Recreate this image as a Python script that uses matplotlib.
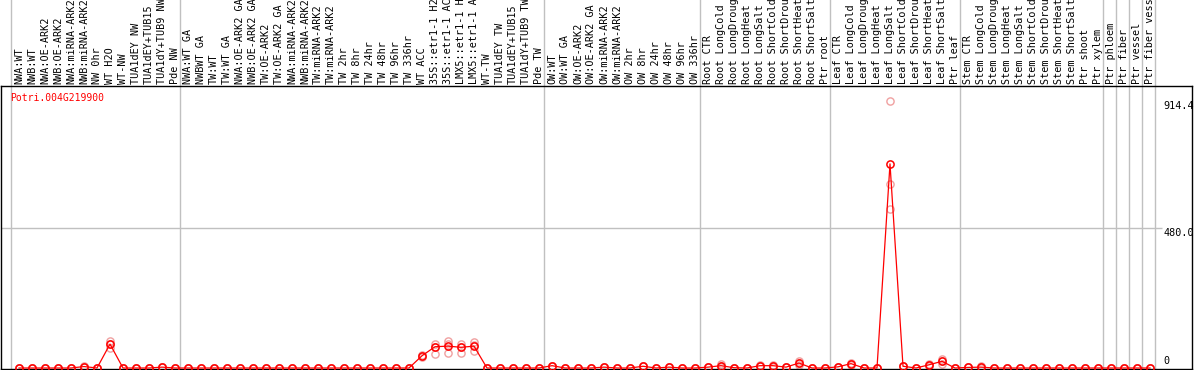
import matplotlib
matplotlib.use("Agg")
import matplotlib.pyplot as plt

# --- dados ---
gene_id = "Potri.004G219900"

labels = [
    # grupo 1
    "NWA:WT", "NWB:WT", "NWA:OE-ARK2", "NWB:OE-ARK2", "NWA:miRNA-ARK2", "NWB:miRNA-ARK2",
    "NW 0hr", "WT H2O", "WT-NW", "TUA1dEY NW", "TUA1dEY+TUB15", "TUA1dY+TUB9 NW", "Pde NW",
    # grupo 2
    "NWA:WT GA", "NWBWT GA", "TW:WT", "TW:WT GA", "NWA:OE-ARK2 GA", "NWB:OE-ARK2 GA",
    "TW:OE-ARK2", "TW:OE-ARK2 GA", "NWA:miRNA-ARK2", "NWB:miRNA-ARK2", "TW:miRNA-ARK2",
    "TW:miRNA-ARK2", "TW 2hr", "TW 8hr", "TW 24hr", "TW 48hr", "TW 96hr", "TW 336hr",
    "WT ACC", "35S::etr1-1 H2", "35S::etr1-1 AC", "LMX5::etr1-1 H", "LMX5::etr1-1 A",
    "WT-TW", "TUA1dEY TW", "TUA1dEY+TUB15", "TUA1dY+TUB9 TW", "Pde TW",
    # grupo 3
    "OW:WT", "OW:WT GA", "OW:OE-ARK2", "OW:OE-ARK2 GA", "OW:miRNA-ARK2", "OW:miRNA-ARK2",
    "OW 2hr", "OW 8hr", "OW 24hr", "OW 48hr", "OW 96hr", "OW 336hr",
    # raiz
    "Root CTR", "Root LongCold", "Root LongDroug", "Root LongHeat", "Root LongSalt",
    "Root ShortCold", "Root ShortDrou", "Root ShortHeat", "Root ShortSalt", "Ptr root",
    # folha
    "Leaf CTR", "Leaf LongCold", "Leaf LongDroug", "Leaf LongHeat", "Leaf LongSalt",
    "Leaf ShortCold", "Leaf ShortDrou", "Leaf ShortHeat", "Leaf ShortSalt", "Ptr leaf",
    # caule
    "Stem CTR", "Stem LongCold", "Stem LongDroug", "Stem LongHeat", "Stem LongSalt",
    "Stem ShortCold", "Stem ShortDrou", "Stem ShortHeat", "Stem ShortSalt", "Ptr shoot",
    "Ptr xylem",
    # tecidos isolados
    "Ptr phloem", "Ptr fiber", "Ptr vessel", "Ptr fiber vess",
]

group_sizes = [13, 28, 12, 10, 10, 11, 1, 1, 1, 1]

# média (linha vermelha)
means = [
    0, 0, 0, 0, 0, 5, 0, 82, 0, 0, 0, 3, 0,
    0, 0, 0, 0, 0, 0, 0, 0, 0, 0, 0, 0, 0, 0, 0, 0, 0, 0,
    42, 73, 75, 71, 75, 0, 0, 0, 0, 0,
    8, 0, 0, 0, 3, 0, 0, 6, 0, 3, 0, 0,
    3, 8, 1, 0, 8, 8, 3, 17, 0, 0,
    4, 15, 0, 0, 700, 6, 0, 11, 23, 0,
    2, 3, 0, 0, 0, 0, 0, 0, 0, 0, 0,
    0, 0, 0, 0,
]

# réplicas (círculos claros)
rep_a = [
    0, 0, 0, 0, 0, 7, 0, 94, 0, 0, 0, 3, 0,
    0, 0, 0, 0, 0, 0, 0, 0, 0, 0, 0, 0, 0, 0, 0, 0, 0, 0,
    45, 82, 92, 82, 89, 0, 0, 0, 0, 0,
    8, 0, 0, 0, 3, 0, 0, 6, 0, 3, 0, 0,
    3, 14, 1, 0, 10, 12, 3, 23, 0, 0,
    4, 18, 0, 0, 914.4, 6, 0, 15, 31, 0,
    2, 6, 0, 0, 0, 0, 0, 0, 0, 0, 0,
    0, 0, 0, 0,
]
rep_b = [
    0, 0, 0, 0, 0, 5, 0, 82, 0, 0, 0, 3, 0,
    0, 0, 0, 0, 0, 0, 0, 0, 0, 0, 0, 0, 0, 0, 0, 0, 0, 0,
    42, 73, 82, 71, 80, 0, 0, 0, 0, 0,
    8, 0, 0, 0, 3, 0, 0, 6, 0, 3, 0, 0,
    3, 8, 1, 0, 8, 8, 3, 17, 0, 0,
    4, 15, 0, 0, 631, 6, 0, 11, 23, 0,
    2, 3, 0, 0, 0, 0, 0, 0, 0, 0, 0,
    0, 0, 0, 0,
]
rep_c = [
    0, 0, 0, 0, 0, 3, 0, 70, 0, 0, 0, 3, 0,
    0, 0, 0, 0, 0, 0, 0, 0, 0, 0, 0, 0, 0, 0, 0, 0, 0, 0,
    39, 48, 50, 50, 58, 0, 0, 0, 0, 0,
    8, 0, 0, 0, 3, 0, 0, 6, 0, 3, 0, 0,
    3, 2, 1, 0, 6, 4, 3, 11, 0, 0,
    4, 12, 0, 0, 545, 6, 0, 7, 15, 0,
    2, 0, 0, 0, 0, 0, 0, 0, 0, 0, 0,
    0, 0, 0, 0,
]

y_ticks = [914.4, 480.0, 0]

# --- figura ---
W, H = 1194, 370
fig = plt.figure(figsize=(W / 100, H / 100), dpi=100)
# caixa do gráfico: x 1..1192 px, y 86..369 px (a partir do topo)
ax = fig.add_axes([1 / W, 1 - 369 / H, 1191 / W, 283 / H])

x = list(range(len(means)))
ax.set_xlim(-18 / 13, 1173 / 13)
ax.set_ylim(-3.4, 967)
ax.set_xticks([])
ax.set_yticks([])
for s in ax.spines.values():
    s.set_color("black")
    s.set_linewidth(1.0)

mono = "DejaVu Sans Mono"

# linhas verticais dos grupos (atravessam a área dos rótulos)
limite = 0
fronteiras = [0]
for g in group_sizes:
    limite += g
    fronteiras.append(limite)
for b in fronteiras:
    ax.axvline(b - 0.6, ymin=0, ymax=369 / 283, color="#c0c0c0", lw=1.0,
               clip_on=False, zorder=0)

# grade horizontal em 480
ax.hlines(480.0, -2, 87.9, color="#c0c0c0", lw=1.0, zorder=0)

# rótulos das amostras no topo
for i, lab in enumerate(labels):
    ax.text(i, 1.007, lab, transform=ax.get_xaxis_transform(), rotation=90,
            ha="center", va="bottom", fontsize=7.3, family=mono, clip_on=False)

# réplicas
for rep in (rep_a, rep_b, rep_c):
    ax.plot(x, rep, linestyle="none", marker="o", ms=5.2, mfc="none",
            mec="#f0a0a0", mew=1.0, zorder=2, clip_on=False)

# média
ax.plot(x, means, color="red", lw=0.9, marker="o", ms=5.2, mfc="none",
        mec="red", mew=1.1, zorder=3, clip_on=False)

# valores do eixo à direita
ax.text(88.0, y_ticks[0], f"{y_ticks[0]:.1f}", ha="left", va="top",
        fontsize=7.3, family=mono)
ax.text(88.0, y_ticks[1], f"{y_ticks[1]:.1f}", ha="left", va="top",
        fontsize=7.3, family=mono)
ax.text(88.0, 6, f"{y_ticks[2]:.0f}", ha="left", va="bottom",
        fontsize=7.3, family=mono)

# nome do gene
ax.text(-0.7, 943, gene_id, ha="left", va="top", color="red",
        fontsize=7.0, family=mono)

fig.savefig("out.png", dpi=100)
